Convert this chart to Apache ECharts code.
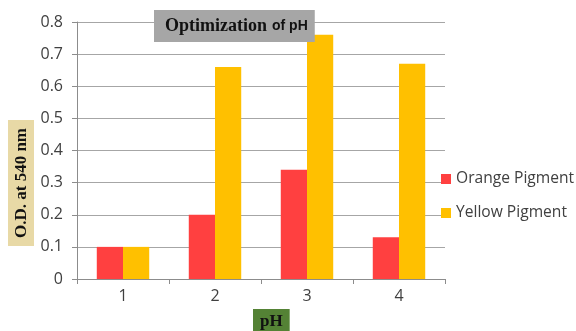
<!DOCTYPE html>
<html>
<head>
<meta charset="utf-8">
<script src="https://cdn.jsdelivr.net/npm/echarts@6/dist/echarts.min.js"></script>
<style>
  html, body { margin: 0; padding: 0; background: #ffffff; }
  #chart { width: 576px; height: 331px; }
</style>
</head>
<body>
<div id="chart"></div>
<script>
// pH levels tested and optical density readings per pigment
const phLevels = ['1', '2', '3', '4'];
const orangePigment = [0.10, 0.20, 0.34, 0.13];
const yellowPigment = [0.10, 0.66, 0.76, 0.67];
const odTicks = [0, 0.1, 0.2, 0.3, 0.4, 0.5, 0.6, 0.7, 0.8];

const chart = echarts.init(document.getElementById('chart'));

const labelFont = '"Open Sans", "Liberation Sans", sans-serif';
const serifFont = '"Liberation Serif", "DejaVu Serif", serif';

chart.setOption({
  animation: false,
  backgroundColor: '#ffffff',
  title: {
    text: '{a|Optimization} {b|of pH}',
    left: 154,
    top: 10,
    backgroundColor: '#a6a6a6',
    padding: [7, 7, 7, 11],
    textStyle: {
      rich: {
        a: { fontFamily: serifFont, fontWeight: 'bold', fontSize: 18, color: '#111111' },
        b: { fontFamily: '"Liberation Sans", sans-serif', fontWeight: 'bold', fontSize: 14, color: '#111111' }
      }
    }
  },
  grid: { left: 77, right: 131, top: 22, bottom: 52, containLabel: false },
  legend: {
    orient: 'vertical',
    left: 441,
    top: 171,
    padding: 0,
    itemWidth: 10,
    itemHeight: 10,
    itemGap: 18,
    icon: 'rect',
    textStyle: { fontFamily: labelFont, fontSize: 15.6, color: '#404040' },
    data: ['Orange Pigment', 'Yellow Pigment']
  },
  xAxis: {
    type: 'category',
    data: phLevels,
    axisLine: { lineStyle: { color: '#8c8c8c', width: 1 } },
    axisTick: { show: true, length: 5, lineStyle: { color: '#8c8c8c' } },
    axisLabel: { fontFamily: labelFont, fontSize: 16, color: '#404040', margin: 9 }
  },
  yAxis: {
    type: 'value',
    min: odTicks[0],
    max: odTicks[odTicks.length - 1],
    interval: 0.1,
    axisLine: { show: true, lineStyle: { color: '#8c8c8c', width: 1 } },
    axisTick: { show: true, length: 5, lineStyle: { color: '#8c8c8c' } },
    splitLine: { lineStyle: { color: '#a6a6a6', width: 1 } },
    axisLabel: {
      fontFamily: labelFont, fontSize: 16, color: '#404040', margin: 14,
      formatter: v => (v === 0 ? '0' : v.toFixed(1))
    }
  },
  graphic: [
    {
      type: 'text',
      left: 8,
      top: 120,
      rotation: Math.PI / 2,
      style: {
        text: 'O.D. at 540 nm',
        font: 'bold 17px ' + serifFont,
        fill: '#111111',
        backgroundColor: '#e8d9a6',
        padding: [5, 8, 4, 8]
      }
    },
    {
      type: 'text',
      left: 253,
      top: 309,
      style: {
        text: 'pH',
        font: 'bold 17px ' + serifFont,
        fill: '#111111',
        backgroundColor: '#548235',
        padding: [4, 7, 2, 7]
      }
    }
  ],
  series: [
    {
      name: 'Orange Pigment',
      type: 'bar',
      data: orangePigment,
      itemStyle: { color: '#ff4040' },
      barGap: '0%',
      barCategoryGap: '43%'
    },
    {
      name: 'Yellow Pigment',
      type: 'bar',
      data: yellowPigment,
      itemStyle: { color: '#ffc000' },
      barGap: '0%',
      barCategoryGap: '43%'
    }
  ]
});
</script>
</body>
</html>
